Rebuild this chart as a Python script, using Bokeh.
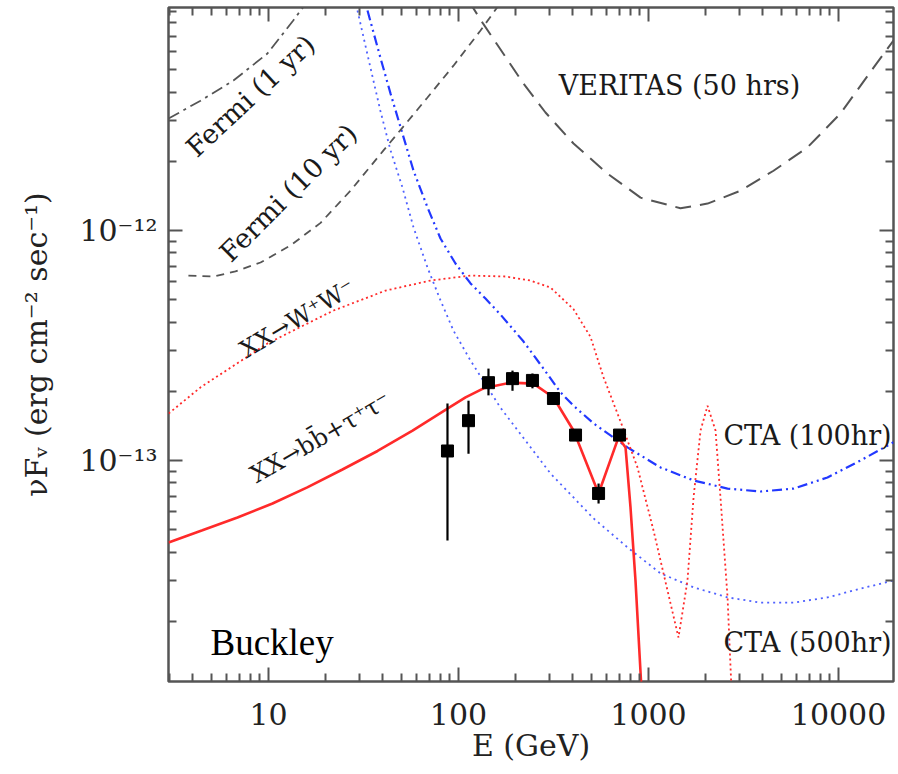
from bokeh.plotting import figure
from bokeh.models import Range1d, LogAxis, FixedTicker
from bokeh.core.properties import value
from bokeh.embed import file_html
from bokeh.resources import INLINE

# ---------------- data (E in GeV, nuF_nu in erg cm^-2 s^-1) ----------------
fermi1_E = [2.98, 4.39, 6.54, 9.88, 13.5, 15.7]
fermi1_F = [3.07e-12, 3.67e-12, 4.49e-12, 5.89e-12, 8.19e-12, 9.7e-12]

fermi10_E = [3.79, 5.13, 6.70, 9.08, 13.05, 18.8, 27.0, 40.3, 68.7, 94.1, 130.6, 162.4]
fermi10_F = [6.37e-13, 6.31e-13, 6.64e-13, 7.26e-13, 8.61e-13, 1.08e-12, 1.49e-12,
             2.23e-12, 3.79e-12, 5.21e-12, 7.41e-12, 9.51e-12]

veritas_E = [112.9, 133.7, 220, 287, 403, 608, 908, 1473, 2045, 3050, 4550, 6870,
             10250, 15290, 19460]
veritas_F = [1.0e-11, 8.02e-12, 4.35e-12, 3.26e-12, 2.39e-12, 1.77e-12, 1.39e-12,
             1.25e-12, 1.31e-12, 1.49e-12, 1.82e-12, 2.30e-12, 3.23e-12, 5.11e-12, 6.70e-12]

cta100_E = [33.2, 38.8, 43.9, 50.7, 58.0, 68.7, 80.4, 96.4, 115.7, 138.7, 166, 220, 280,
            344, 403, 514, 775, 1156, 1726, 2606, 3884, 5800, 8750, 13050, 19460]
cta100_F = [9.05e-12, 5.65e-12, 3.94e-12, 2.64e-12, 1.82e-12, 1.26e-12, 9.23e-13,
            7.19e-13, 5.89e-13, 5.06e-13, 4.32e-13, 3.29e-13, 2.51e-13, 1.98e-13,
            1.73e-13, 1.45e-13, 1.14e-13, 9.33e-14, 8.19e-14, 7.55e-14, 7.33e-14,
            7.55e-14, 8.44e-14, 1.0e-13, 1.20e-13]

cta500_E = [29.4, 34.4, 38.8, 43.9, 50.7, 58.0, 68.7, 80.4, 94.1, 115.7, 142.2, 166,
            305, 514, 775, 1156, 1726, 2606, 3884, 5800, 8750, 13050, 19460]
cta500_F = [9.05e-12, 5.11e-12, 3.32e-12, 2.23e-12, 1.54e-12, 1.03e-12, 6.90e-13,
            4.97e-13, 3.67e-13, 2.72e-13, 2.08e-13, 1.70e-13, 8.78e-14, 5.60e-14,
            4.19e-14, 3.23e-14, 2.81e-14, 2.54e-14, 2.41e-14, 2.41e-14, 2.54e-14,
            2.77e-14, 3.01e-14]

ww_E = [2.98, 4.39, 9.88, 22.0, 41.3, 71.2, 115.7, 177, 239, 305, 403, 495, 580, 712,
        875, 1062, 1259, 1438, 1604, 1726, 1879, 2045, 2253, 2392, 2606, 2735]
ww_F = [1.60e-13, 2.08e-13, 3.23e-13, 4.49e-13, 5.48e-13, 6.06e-13, 6.37e-13, 6.31e-13,
        6.06e-13, 5.65e-13, 4.55e-13, 3.45e-13, 2.30e-13, 1.48e-13, 9.33e-14, 4.97e-14,
        2.72e-14, 1.70e-14, 3.01e-14, 6.90e-14, 1.35e-13, 1.73e-13, 1.35e-13, 6.90e-14,
        2.54e-14, 1.0e-14]

bb_E = [2.98, 4.49, 6.87, 10.5, 16.0, 24.5, 37.5, 57.3, 87.5, 108.9, 135.4, 188, 248,
        316, 403, 546, 695, 757, 804, 854, 919]
bb_F = [4.40e-14, 4.97e-14, 5.65e-14, 6.50e-14, 7.64e-14, 9.14e-14, 1.10e-13, 1.35e-13,
        1.68e-13, 1.88e-13, 2.06e-13, 2.18e-13, 2.16e-13, 1.88e-13, 1.35e-13, 7.19e-14,
        1.26e-13, 1.14e-13, 6.25e-14, 3.01e-14, 1.0e-14]

pts_E = [87.5, 112.9, 143.8, 192.4, 245, 316, 413, 546, 704]
pts_F = [1.10e-13, 1.49e-13, 2.18e-13, 2.27e-13, 2.23e-13, 1.86e-13, 1.29e-13, 7.19e-14, 1.29e-13]
pts_hi = [1.77e-13, 1.82e-13, 2.51e-13, 2.46e-13, 2.39e-13, 1.95e-13, 1.36e-13, 7.94e-14, 1.34e-13]
pts_lo = [4.49e-14, 1.07e-13, 1.92e-13, 2.01e-13, 2.06e-13, 1.78e-13, 1.22e-13, 6.50e-14, 1.24e-13]

x_ticks = [10, 100, 1000, 10000]
x_tick_labels = ["10", "100", "1000", "10000"]
y_ticks = [1e-13, 1e-12]
y_tick_labels = ["10⁻¹³", "10⁻¹²"]

# instrument labels
inst_labels = ["Fermi (1 yr)", "Fermi (10 yr)", "VERITAS (50 hrs)", "CTA (100hr)", "CTA (500hr)"]
inst_E = [8.04, 12.7, 1456, 6870, 6870]
inst_F = [3.86e-12, 1.46e-12, 4.27e-12, 1.28e-13, 1.62e-14]
inst_angle = [43, 45, 0, 0, 0]

# annihilation-channel labels
chan_labels = ["XX→W⁺W⁻", "XX→bb\u0304+τ⁺τ⁻"]
chan_E = [14.2, 18.8]
chan_F = [4.14e-13, 1.26e-13]
chan_angle = [31, 30]

# tick positions for the frame (decades and their minor subdivisions)
x_major = [1, 10, 100, 1000, 10000]
x_minor = [m * d for d in [1, 10, 100, 1000, 10000] for m in range(2, 10)]
y_major = [1e-14, 1e-13, 1e-12, 1e-11]
y_minor = [m * d for d in [1e-14, 1e-13, 1e-12] for m in range(2, 10)]

# ---------------- figure ----------------
FONT = "DejaVu Serif"
p = figure(width=898, height=774, x_axis_type="log", y_axis_type="log",
           x_range=Range1d(2.977, 19470), y_range=Range1d(1.094e-14, 9.33e-12),
           output_backend="svg", toolbar_location=None,
           min_border_left=168, min_border_right=5, min_border_top=7, min_border_bottom=93)
p.background_fill_color = "white"
p.border_fill_color = "white"
p.xgrid.visible = False
p.ygrid.visible = False
p.outline_line_color = "#555555"
p.outline_line_width = 2.5

ax_col = "#555555"

def style_axis(ax):
    ax.axis_line_color = None
    ax.major_tick_in = 14
    ax.major_tick_out = 0
    ax.minor_tick_in = 8
    ax.minor_tick_out = 0
    ax.major_tick_line_color = ax_col
    ax.minor_tick_line_color = ax_col
    ax.major_tick_line_width = 2
    ax.minor_tick_line_width = 2

xa = p.xaxis[0]
ya = p.yaxis[0]
xa.ticker = FixedTicker(ticks=x_major, minor_ticks=x_minor)
ya.ticker = FixedTicker(ticks=y_major, minor_ticks=y_minor)
style_axis(xa)
style_axis(ya)
xa.major_label_overrides = {t: s for t, s in zip(x_ticks, x_tick_labels)}
ya.major_label_overrides = {t: s for t, s in zip(y_ticks, y_tick_labels)}
for ax in (xa, ya):
    ax.major_label_text_font = FONT
    ax.major_label_text_font_size = "30px"
    ax.major_label_text_color = "#222222"
    ax.axis_label_text_font = FONT
    ax.axis_label_text_font_size = "30px"
    ax.axis_label_text_font_style = "normal"
    ax.axis_label_text_color = "#222222"
xa.major_label_standoff = 21
xa.axis_label = "E (GeV)"
xa.axis_label_standoff = 0
ya.major_label_standoff = 11
ya.axis_label = "νFᵥ (erg cm⁻² sec⁻¹)"
ya.axis_label_standoff = 22

# mirrored ticks on top and right (no labels)
top_major = LogAxis(ticker=FixedTicker(ticks=[], minor_ticks=x_major))
top_minor = LogAxis(ticker=FixedTicker(ticks=[], minor_ticks=x_minor))
right_major = LogAxis(ticker=FixedTicker(ticks=[], minor_ticks=y_major))
right_minor = LogAxis(ticker=FixedTicker(ticks=[], minor_ticks=y_minor))
for ax, ln in ((top_major, 14), (top_minor, 8), (right_major, 14), (right_minor, 8)):
    style_axis(ax)
    ax.minor_tick_in = ln
    ax.major_label_standoff = 0
p.add_layout(top_major, "above")
p.add_layout(top_minor, "above")
p.add_layout(right_major, "right")
p.add_layout(right_minor, "right")

# ---------------- curves ----------------
blue = "#2238ff"
red = "#ff2a2a"
gray = "#555555"
p.line(cta500_E, cta500_F, line_color=blue, line_width=1.8, line_dash="2 4", line_alpha=0.8)
p.line(cta100_E, cta100_F, line_color=blue, line_width=2.2, line_dash="10 4 2 4 2 4")
p.line(fermi1_E, fermi1_F, line_color=gray, line_width=1.8, line_dash="12 5 3 5")
p.line(fermi10_E, fermi10_F, line_color=gray, line_width=1.8, line_dash="8 6")
p.line(veritas_E, veritas_F, line_color=gray, line_width=2.0, line_dash="16 9")
p.line(ww_E, ww_F, line_color=red, line_width=1.8, line_dash="2 3")
p.line(bb_E, bb_F, line_color=red, line_width=2.6)

# data points with error bars
p.segment(x0=pts_E, y0=pts_lo, x1=pts_E, y1=pts_hi, line_color="black", line_width=2.2)
p.scatter(pts_E, pts_F, marker="square", size=12, fill_color="black", line_color="black")

# ---------------- labels ----------------
p.text(x=inst_E, y=inst_F, text=inst_labels, angle=inst_angle, angle_units="deg",
       text_font=value(FONT), text_font_size="27px", text_align="center",
       text_baseline="middle", text_color="#1a1a1a")
p.text(x=chan_E, y=chan_F, text=chan_labels, angle=chan_angle, angle_units="deg",
       text_font=value(FONT), text_font_size="24px", text_align="center",
       text_baseline="middle", text_color="#1a1a1a")
p.text(x=[4.95], y=[1.62e-14], text=["Buckley"], text_font=value("Liberation Serif"),
       text_font_size="37px", text_align="left", text_baseline="alphabetic",
       text_color="black")

open("out.html", "w").write(file_html(p, INLINE))
